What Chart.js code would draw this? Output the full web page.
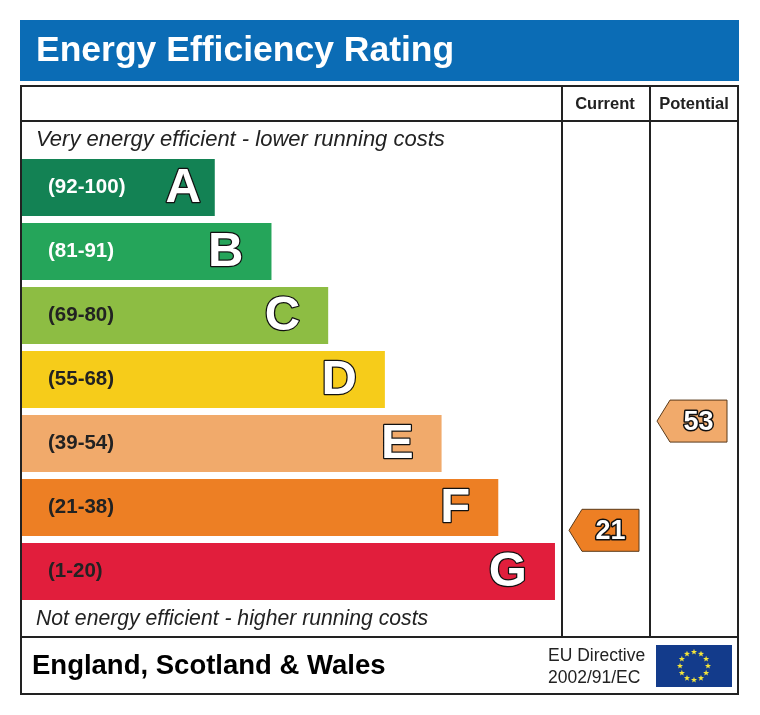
<!DOCTYPE html>
<html>
<head>
<meta charset="utf-8">
<script src="https://cdn.jsdelivr.net/npm/chart.js@4"></script>
<style>
  html, body { margin: 0; padding: 0; background: #fff; }
  #epc { display: block; }
</style>
</head>
<body>
<canvas id="epc" width="760" height="715"></canvas>
<script>
// rating bands, top (best) to bottom (worst)
const bands = ['A', 'B', 'C', 'D', 'E', 'F', 'G'];
const bandRanges = ['(92-100)', '(81-91)', '(69-80)', '(55-68)', '(39-54)', '(21-38)', '(1-20)'];
const bandMin = [92, 81, 69, 55, 39, 21, 1];
const bandMax = [100, 91, 80, 68, 54, 38, 20];
const bandLengths = [34, 44, 54, 64, 74, 84, 94]; // relative bar length
const bandColors = ['#138254', '#25a55a', '#8dbd43', '#f6cc1a', '#f1aa6b', '#ed7f24', '#e11e3c'];
const rangeTextColors = ['#ffffff', '#ffffff', '#222222', '#222222', '#222222', '#222222', '#222222'];

const currentRating = 21;
const potentialRating = 53;

const FONT = '"Liberation Sans", Arial, Helvetica, sans-serif';

function bandOf(v) {
    for (let i = 0; i < bands.length; i++) {
        if (v >= bandMin[i] && v <= bandMax[i]) return i;
    }
    return bands.length - 1;
}

function outlinedText(ctx, text, x, y, size, align, lw) {
    ctx.font = 'bold ' + size + 'px ' + FONT;
    ctx.textAlign = align;
    ctx.textBaseline = 'middle';
    ctx.lineJoin = 'round';
    ctx.lineWidth = lw;
    ctx.strokeStyle = '#111';
    ctx.strokeText(text, x, y);
    ctx.fillStyle = '#fff';
    ctx.fillText(text, x, y);
}

function drawArrow(ctx, rating, right, meta) {
    const i = bandOf(rating);
    const bar = meta.data[i];
    const h = bar.height;
    const top = bar.y - h / 2;
    const frac = (bandMax[i] - rating) / (bandMax[i] - bandMin[i]);
    const cy = top + h * 0.05 + frac * h * 0.85;
    const w = 70, tip = 13, ah = 42;
    const left = right - w;
    ctx.beginPath();
    ctx.moveTo(left, cy);
    ctx.lineTo(left + tip, cy - ah / 2);
    ctx.lineTo(right, cy - ah / 2);
    ctx.lineTo(right, cy + ah / 2);
    ctx.lineTo(left + tip, cy + ah / 2);
    ctx.closePath();
    ctx.fillStyle = bandColors[i];
    ctx.fill();
    ctx.lineWidth = 1;
    ctx.strokeStyle = '#5a3a1a';
    ctx.stroke();
    outlinedText(ctx, String(rating), left + tip + (w - tip) / 2, cy + 1, 27, 'center', 3);
}

function drawStar(ctx, cx, cy, r) {
    ctx.beginPath();
    for (let k = 0; k < 10; k++) {
        const a = -Math.PI / 2 + k * Math.PI / 5;
        const rr = k % 2 === 0 ? r : r * 0.42;
        ctx.lineTo(cx + rr * Math.cos(a), cy + rr * Math.sin(a));
    }
    ctx.closePath();
    ctx.fill();
}

const epcFrame = {
    id: 'epcFrame',
    beforeDraw(chart) {
        const ctx = chart.ctx;
        ctx.save();
        ctx.fillStyle = '#fff';
        ctx.fillRect(0, 0, chart.width, chart.height);

        // header
        ctx.fillStyle = '#0b6cb5';
        ctx.fillRect(20, 20, 719, 61);
        ctx.fillStyle = '#fff';
        ctx.font = 'bold 35.5px ' + FONT;
        ctx.textAlign = 'left';
        ctx.textBaseline = 'middle';
        ctx.fillText('Energy Efficiency Rating', 36, 51);

        // table frame
        ctx.strokeStyle = '#222';
        ctx.lineWidth = 2;
        ctx.strokeRect(21, 86, 717, 608);
        ctx.beginPath();
        ctx.moveTo(21, 121); ctx.lineTo(738, 121);
        ctx.moveTo(21, 637); ctx.lineTo(738, 637);
        ctx.moveTo(562, 86); ctx.lineTo(562, 637);
        ctx.moveTo(650, 86); ctx.lineTo(650, 637);
        ctx.stroke();

        ctx.fillStyle = '#222';
        ctx.font = 'bold 16.5px ' + FONT;
        ctx.textAlign = 'center';
        ctx.fillText('Current', 605, 104);
        ctx.fillText('Potential', 694, 104);

        ctx.textAlign = 'left';
        ctx.font = 'italic 22px ' + FONT;
        ctx.fillText('Very energy efficient - lower running costs', 36, 140);
        ctx.font = 'italic 21.2px ' + FONT;
        ctx.fillText('Not energy efficient - higher running costs', 36, 619);

        // footer
        ctx.fillStyle = '#000';
        ctx.font = 'bold 27.5px ' + FONT;
        ctx.fillText('England, Scotland & Wales', 32, 666);
        ctx.fillStyle = '#222';
        ctx.font = '17.5px ' + FONT;
        ctx.fillText('EU Directive', 548, 656);
        ctx.fillText('2002/91/EC', 548, 678);

        ctx.fillStyle = '#133b8b';
        ctx.fillRect(656, 645, 76, 42);
        ctx.fillStyle = '#f5e63a';
        for (let k = 0; k < 12; k++) {
            const a = k * Math.PI / 6;
            drawStar(ctx, 694 + 14 * Math.sin(a), 666 - 14 * Math.cos(a), 3.2);
        }
        ctx.restore();
    },
    afterDatasetsDraw(chart) {
        const ctx = chart.ctx;
        const meta = chart.getDatasetMeta(0);
        ctx.save();
        meta.data.forEach((bar, i) => {
            ctx.fillStyle = rangeTextColors[i];
            ctx.font = 'bold 20.5px ' + FONT;
            ctx.textAlign = 'left';
            ctx.textBaseline = 'middle';
            ctx.fillText(bandRanges[i], 48, bar.y);
            // the short A bar keeps its letter nearer the end
            const inset = i === 0 ? 14 : 28;
            outlinedText(ctx, bands[i], bar.x - inset, bar.y + 1, 49, 'right', 2.5);
        });
        drawArrow(ctx, currentRating, 639, meta);
        drawArrow(ctx, potentialRating, 727, meta);
        ctx.restore();
    }
};

new Chart(document.getElementById('epc'), {
    type: 'bar',
    data: {
        labels: bands,
        datasets: [{
            data: bandLengths,
            backgroundColor: bandColors,
            borderWidth: 0,
            barPercentage: 1,
            categoryPercentage: 57 / 64
        }]
    },
    options: {
        indexAxis: 'y',
        responsive: false,
        animation: false,
        layout: { padding: { left: 22, top: 155.5, right: 171, bottom: 111.5 } },
        plugins: { legend: { display: false }, tooltip: { enabled: false } },
        scales: {
            x: { display: false, min: 0, max: 100 },
            y: { display: false }
        }
    },
    plugins: [epcFrame]
});
</script>
</body>
</html>
